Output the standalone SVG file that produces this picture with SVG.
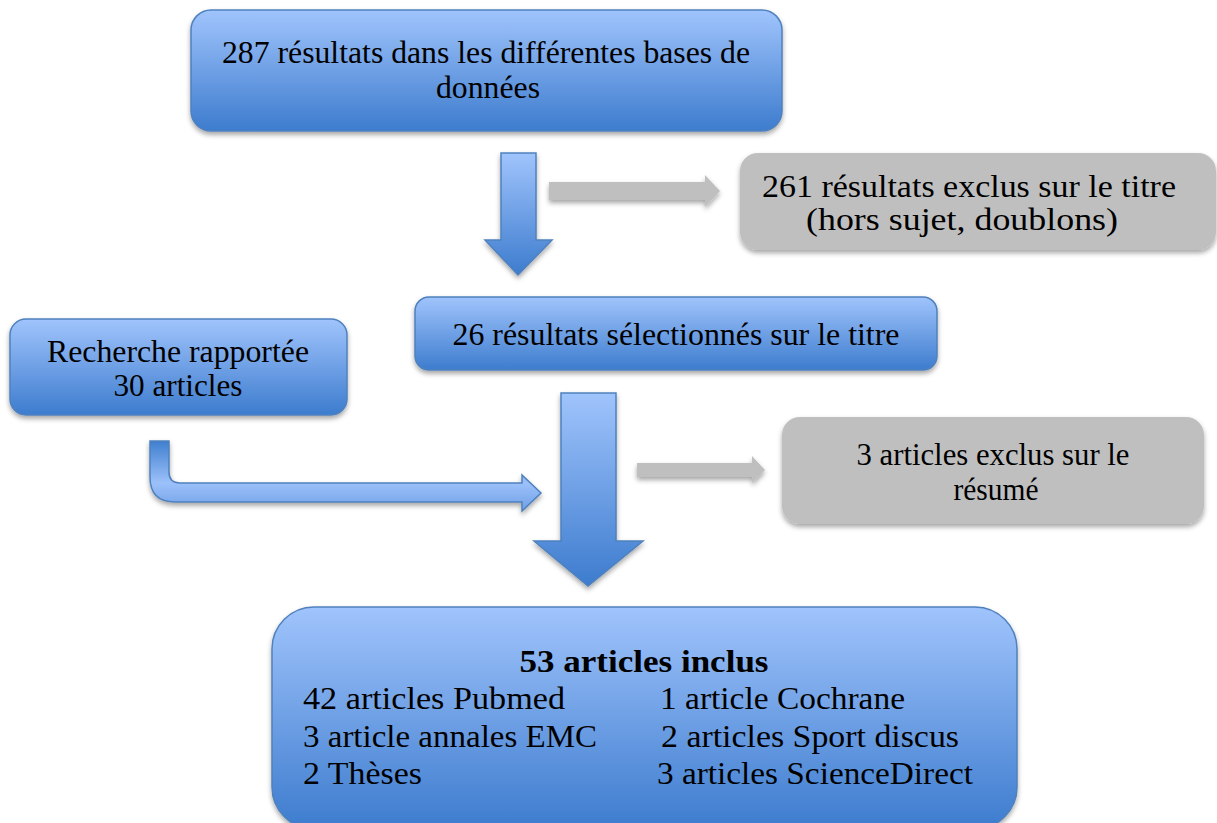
<svg xmlns="http://www.w3.org/2000/svg" width="1217" height="823" viewBox="0 0 1217 823">
<defs>
<linearGradient id="blue" x1="0" y1="0" x2="0" y2="1">
<stop offset="0" stop-color="#a0c4fc"/>
<stop offset="1" stop-color="#3d7cce"/>
</linearGradient>
<linearGradient id="bent" gradientUnits="userSpaceOnUse" x1="0" y1="441" x2="0" y2="511">
<stop offset="0" stop-color="#3f7fcf"/>
<stop offset="0.6" stop-color="#9cc1fa"/>
<stop offset="1" stop-color="#6f9fe6"/>
</linearGradient>
<filter id="sh" x="-10%" y="-10%" width="120%" height="130%">
<feDropShadow dx="0" dy="3" stdDeviation="2.5" flood-color="#000" flood-opacity="0.35"/>
</filter>
</defs>
<style>
.b{fill:url(#blue);stroke:#4f81bd;stroke-width:1.5;filter:url(#sh)}
.g{fill:#bfbfbf;filter:url(#sh)}
.t{font-family:"Liberation Serif","DejaVu Serif",serif;font-size:31px;fill:#000}
.c{text-anchor:middle}
.bold{font-weight:bold}
</style>
<rect width="1217" height="823" fill="#fff"/>
<g id="connectors">
<path class="b" d="M501,153 H536 V240 H552 L518,275 L485,240 H501 Z"/>
<path class="g" d="M549,182 H705 V175 L720,191 L705,207 V200 H549 Z"/>
<path class="b" style="fill:url(#bent)" d="M150,441 H169 V472 Q169,483 180,483 H522 V475 L541,493 L522,511 V502 H175 Q150,502 150,477 Z"/>
<path class="b" d="M561,393 H616 V541 H643 L588,586 L534,541 H561 Z"/>
<path class="g" d="M637,463 H752 V456 L765,470 L752,483 V477 H637 Z"/>
</g>
<g id="n1">
<rect class="b" x="191" y="10" width="591" height="121" rx="20"/>
<text class="t c" x="486" y="63" textLength="528" lengthAdjust="spacingAndGlyphs">287 résultats dans les différentes bases de</text>
<text class="t c" x="488" y="98" textLength="104" lengthAdjust="spacingAndGlyphs">données</text>
</g>
<g id="n2">
<rect class="g" x="740" y="153" width="476" height="97" rx="18"/>
<text class="t c" x="969" y="197" textLength="414" lengthAdjust="spacingAndGlyphs">261 résultats exclus sur le titre</text>
<text class="t c" x="962" y="230" textLength="312" lengthAdjust="spacingAndGlyphs">(hors sujet, doublons)</text>
</g>
<g id="n3">
<rect class="b" x="415" y="297" width="522" height="73" rx="14"/>
<text class="t c" x="676" y="345" textLength="447" lengthAdjust="spacingAndGlyphs">26 résultats sélectionnés sur le titre</text>
</g>
<g id="n4">
<rect class="b" x="10" y="319" width="337" height="96" rx="16"/>
<text class="t c" x="178" y="362" textLength="262" lengthAdjust="spacingAndGlyphs">Recherche rapportée</text>
<text class="t c" x="178" y="396" textLength="129" lengthAdjust="spacingAndGlyphs">30 articles</text>
</g>
<g id="n5">
<rect class="g" x="782" y="417" width="422" height="107" rx="18"/>
<text class="t c" x="993" y="465" textLength="273" lengthAdjust="spacingAndGlyphs">3 articles exclus sur le</text>
<text class="t c" x="996" y="500" textLength="85" lengthAdjust="spacingAndGlyphs">résumé</text>
</g>
<g id="n6">
<rect class="b" x="272" y="607" width="745" height="222" rx="42"/>
<text class="t c bold" x="644" y="672" textLength="249" lengthAdjust="spacingAndGlyphs">53 articles inclus</text>
<text class="t" x="303" y="709" textLength="262" lengthAdjust="spacingAndGlyphs">42 articles Pubmed</text>
<text class="t" x="660" y="709" textLength="245" lengthAdjust="spacingAndGlyphs">1 article Cochrane</text>
<text class="t" x="303" y="747" textLength="294" lengthAdjust="spacingAndGlyphs">3 article annales EMC</text>
<text class="t" x="661" y="747" textLength="298" lengthAdjust="spacingAndGlyphs">2 articles Sport discus</text>
<text class="t" x="303" y="784" textLength="119" lengthAdjust="spacingAndGlyphs">2 Thèses</text>
<text class="t" x="657" y="784" textLength="316" lengthAdjust="spacingAndGlyphs">3 articles ScienceDirect</text>
</g>
</svg>
